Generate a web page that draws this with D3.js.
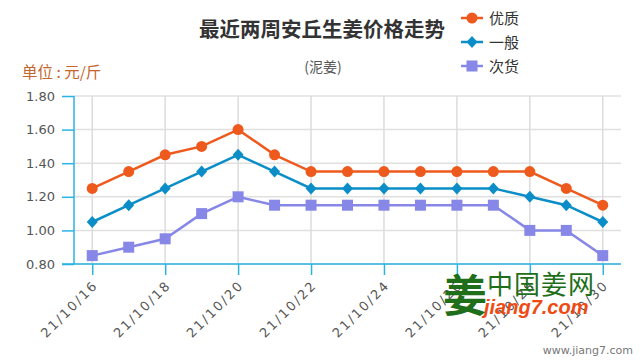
<!DOCTYPE html>
<html><head><meta charset="utf-8">
<script src="https://cdn.jsdelivr.net/npm/d3@7/dist/d3.min.js"></script>
<style>
body{margin:0;background:#fff;}
svg{display:block;font-family:"DejaVu Sans","Noto Sans CJK SC",sans-serif;}
</style></head><body>
<svg id="c" width="640" height="360"></svg>
<script>
const dates = ["21/10/16","21/10/17","21/10/18","21/10/19","21/10/20","21/10/21","21/10/22","21/10/23","21/10/24","21/10/25","21/10/26","21/10/27","21/10/28","21/10/29","21/10/30"];
const tickLabels = ["21/10/16","21/10/18","21/10/20","21/10/22","21/10/24","21/10/26","21/10/28","21/10/30"];
const youzhi = [1.25,1.35,1.45,1.50,1.60,1.45,1.35,1.35,1.35,1.35,1.35,1.35,1.35,1.25,1.15];
const yiban  = [1.05,1.15,1.25,1.35,1.45,1.35,1.25,1.25,1.25,1.25,1.25,1.25,1.20,1.15,1.05];
const cihuo  = [0.85,0.90,0.95,1.10,1.20,1.15,1.15,1.15,1.15,1.15,1.15,1.15,1.00,1.00,0.85];
const yTicks = [0.80,1.00,1.20,1.40,1.60,1.80];
const seriesNames = ["优质","一般","次货"];

const series = [
  {name:seriesNames[0], values:youzhi, color:"#ee5a1d", shape:"circle"},
  {name:seriesNames[1], values:yiban, color:"#0b8ec8", shape:"diamond"},
  {name:seriesNames[2], values:cihuo, color:"#8787e8", shape:"square"}
];

const svg = d3.select("#c");
const L=74, R=621, T=96, B=264;
const x = d3.scalePoint().domain(dates).range([L,R]).padding(0.5);
const y = d3.scaleLinear().domain([0.8,1.8]).range([B,T]);
const axisColor = "#2ab3e3";

// grid
svg.append("g").selectAll("line").data(yTicks).join("line")
  .attr("x1",L).attr("x2",R).attr("y1",d=>y(d)).attr("y2",d=>y(d))
  .attr("stroke","#e0e0e0").attr("stroke-width",1.5);
svg.append("g").selectAll("line").data(tickLabels).join("line")
  .attr("x1",d=>x(d)).attr("x2",d=>x(d)).attr("y1",T).attr("y2",B)
  .attr("stroke","#dcdcdc").attr("stroke-width",1.5);

// y axis
const yAxis = svg.append("g").attr("transform",`translate(${L},0)`)
  .call(d3.axisLeft(y).tickValues(yTicks).tickFormat(d3.format(".2f")).tickSize(12).tickPadding(7));
yAxis.select(".domain").attr("stroke",axisColor).attr("stroke-width",1.5).attr("d",`M0,${T}V${B}`);
yAxis.selectAll(".tick line").attr("stroke",axisColor).attr("stroke-width",1.5);
yAxis.selectAll(".tick text").attr("fill","#555").attr("font-size","13px").attr("font-family","DejaVu Sans");

// x axis
const xAxis = svg.append("g").attr("transform",`translate(0,${B})`)
  .call(d3.axisBottom(x).tickValues(tickLabels).tickSize(11).tickFormat(d=>d));
xAxis.select(".domain").attr("stroke",axisColor).attr("stroke-width",1.5).attr("d",`M62,0H${R}`);
xAxis.selectAll(".tick line").attr("stroke",axisColor).attr("stroke-width",1.5);
xAxis.selectAll(".tick text")
  .attr("fill","#555").attr("font-size","13px").attr("font-family","DejaVu Sans")
  .attr("letter-spacing","2px")
  .attr("text-anchor","end").attr("dy",null).attr("y",0)
  .attr("transform","translate(6,22) rotate(-45)");

// lines & markers
const line = d3.line().x((d,i)=>x(dates[i])).y(d=>y(d));
function marker(g, shape, color, cx, cy){
  if(shape==="circle") g.append("circle").attr("cx",cx).attr("cy",cy).attr("r",5.5).attr("fill",color);
  else if(shape==="diamond") g.append("path").attr("d",`M${cx},${cy-6}L${cx+5.5},${cy}L${cx},${cy+6}L${cx-5.5},${cy}Z`).attr("fill",color);
  else g.append("rect").attr("x",cx-5.5).attr("y",cy-5.5).attr("width",11).attr("height",11).attr("fill",color);
}
series.forEach(s=>{
  svg.append("path").datum(s.values).attr("d",line).attr("fill","none")
    .attr("stroke",s.color).attr("stroke-width",2.5);
  const g = svg.append("g");
  s.values.forEach((v,i)=>marker(g,s.shape,s.color,x(dates[i]),y(v)));
});

// titles
svg.append("text").attr("x",322).attr("y",37).attr("text-anchor","middle")
  .attr("font-family","Noto Sans CJK SC").attr("font-weight","bold").attr("font-size","20.5px").attr("fill","#333")
  .text("最近两周安丘生姜价格走势");
svg.append("text").attr("x",323).attr("y",72).attr("text-anchor","middle")
  .attr("font-family","Noto Sans CJK SC").attr("font-size","14px").attr("fill","#555").text("(泥姜)");
svg.append("text").attr("x",22).attr("y",78)
  .attr("font-family","Noto Sans CJK SC").attr("font-size","15.5px").attr("fill","#c4662c").text("单位 : 元/斤");

// legend
series.forEach((s,i)=>{
  const cy = 18 + i*24;
  const g = svg.append("g");
  g.append("line").attr("x1",461).attr("x2",483).attr("y1",cy).attr("y2",cy).attr("stroke",s.color).attr("stroke-width",2.5);
  marker(g,s.shape,s.color,472,cy);
  g.append("text").attr("x",489).attr("y",cy+5.5).attr("font-family","Noto Sans CJK SC")
    .attr("font-size","15px").attr("fill","#333").text(s.name);
});

// watermark
const wm = svg.append("g");
wm.append("text").attr("x",443).attr("y",312).attr("font-family","Noto Sans CJK SC").attr("font-weight","bold")
  .attr("font-size","44px").attr("fill","#1f6e1a").text("姜");
wm.append("text").attr("x",487).attr("y",294).attr("font-family","Noto Sans CJK SC")
  .attr("font-size","26px").attr("fill","#1f6e1a").attr("letter-spacing","1px").text("中国姜网");
wm.append("text").attr("x",484).attr("y",314).attr("font-family","Liberation Sans").attr("font-weight","bold")
  .attr("font-style","italic").attr("font-size","20px").attr("fill","#f04a14").text("jiang7.com");
svg.append("text").attr("x",633).attr("y",354).attr("text-anchor","end").attr("font-family","DejaVu Sans")
  .attr("font-size","11px").attr("fill","#777").text("www.jiang7.com");
</script>
</body></html>
